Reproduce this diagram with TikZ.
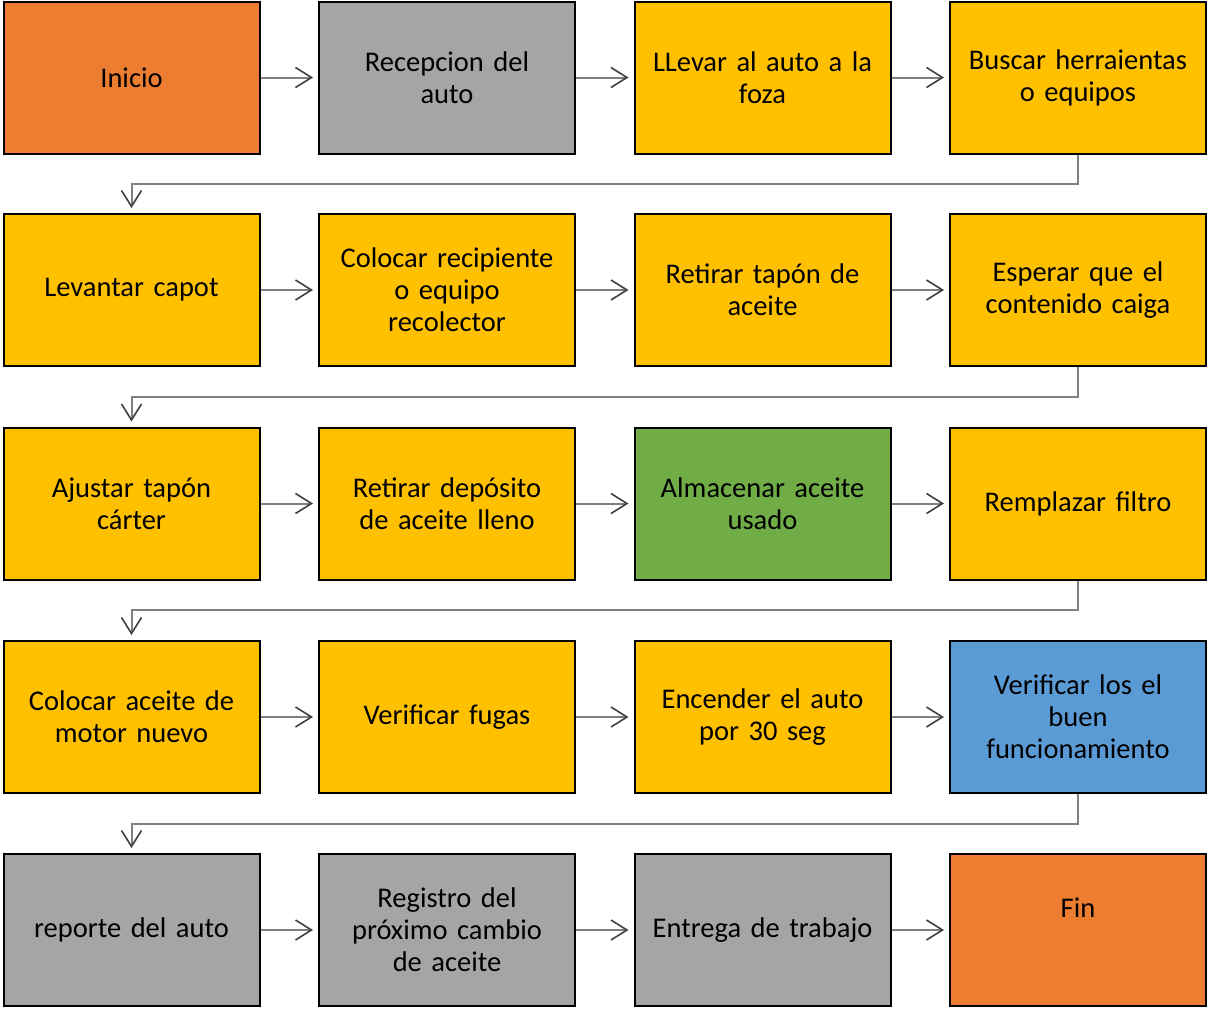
\documentclass[tikz,border=0pt]{standalone}
\usepackage{fontspec}
\setmainfont{Carlito}
\usetikzlibrary{arrows.meta,calc}
\definecolor{cOrange}{HTML}{ED7D31}
\definecolor{cGray}{HTML}{A5A5A5}
\definecolor{cYellow}{HTML}{FFC000}
\definecolor{cGreen}{HTML}{70AD47}
\definecolor{cBlue}{HTML}{5B9BD5}
\definecolor{cLine}{HTML}{808080}
\definecolor{cTip}{HTML}{404040}
\begin{document}
\begin{tikzpicture}[x=1pt,y=-1pt,
  stepbox/.style={draw=black,line width=2pt,minimum width=256pt,minimum height=152pt,
    inner sep=0pt,text width=246pt,align=center,
    font=\fontsize{28.5}{32}\selectfont},
  flow/.style={draw=cLine,line width=2pt,shorten >=5pt,
    -{Straight Barb[length=16pt,width=20pt,line width=1.6pt,color=cTip]}},
]
\useasboundingbox (0,0) rectangle (1207,1009);
\fill[white] (0,0) rectangle (1207,1009);

% row 1
\node[stepbox,fill=cOrange] (a1) at (131.5,77.5) {Inicio};
\node[stepbox,fill=cGray]   (a2) at (447,77.5)   {Recepcion del\\auto};
\node[stepbox,fill=cYellow] (a3) at (762.5,77.5) {LLevar al auto a la\\foza};
\node[stepbox,fill=cYellow] (a4) at (1078,77.5)  {Buscar herraientas\\o equipos};
% row 2
\node[stepbox,fill=cYellow] (b1) at (131.5,290) {Levantar capot};
\node[stepbox,fill=cYellow] (b2) at (447,290)   {Colocar recipiente\\o equipo\\recolector};
\node[stepbox,fill=cYellow] (b3) at (762.5,290) {Retirar tapón de\\aceite};
\node[stepbox,fill=cYellow] (b4) at (1078,290)  {Esperar que el\\contenido caiga};
% row 3
\node[stepbox,fill=cYellow] (c1) at (131.5,503.5) {Ajustar tapón\\cárter};
\node[stepbox,fill=cYellow] (c2) at (447,503.5)   {Retirar depósito\\de aceite lleno};
\node[stepbox,fill=cGreen]  (c3) at (762.5,503.5) {Almacenar aceite\\usado};
\node[stepbox,fill=cYellow] (c4) at (1078,503.5)  {Remplazar filtro};
% row 4
\node[stepbox,fill=cYellow] (d1) at (131.5,717) {Colocar aceite de\\motor nuevo};
\node[stepbox,fill=cYellow] (d2) at (447,717)   {Verificar fugas};
\node[stepbox,fill=cYellow] (d3) at (762.5,717) {Encender el auto\\por 30 seg};
\node[stepbox,fill=cBlue]   (d4) at (1078,717)  {Verificar los el\\buen\\funcionamiento};
% row 5
\node[stepbox,fill=cGray]   (e1) at (131.5,930) {reporte del auto};
\node[stepbox,fill=cGray]   (e2) at (447,930)   {Registro del\\próximo cambio\\de aceite};
\node[stepbox,fill=cGray]   (e3) at (762.5,930) {Entrega de trabajo};
\node[stepbox,fill=cOrange] (e4) at (1078,930)  {};
\node[font=\fontsize{28.5}{32}\selectfont] (fin) at (1078,908) {Fin};

% connectors within rows
\foreach \r in {a,b,c,d,e}{
  \draw[flow] (\r1.east) -- (\r2.west);
  \draw[flow] (\r2.east) -- (\r3.west);
  \draw[flow] (\r3.east) -- (\r4.west);
}
% connectors between rows
\foreach \p/\n in {a/b,b/c,c/d,d/e}{
  \draw[flow] (\p4.south) |- ($(\p4.south)!0.5!(\n1.north)$) -| (\n1.north);
}
\end{tikzpicture}
\end{document}
